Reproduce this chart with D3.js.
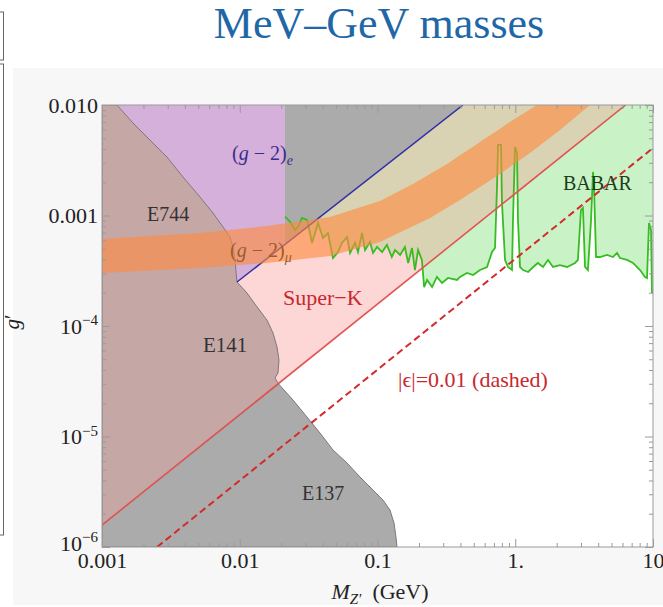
<!DOCTYPE html>
<html>
<head>
<meta charset="utf-8">
<title>MeV–GeV masses</title>
<script src="https://d3js.org/d3.v7.min.js"></script>
<style>
  body { margin: 0; background: #ffffff; }
  text { font-family: "Liberation Serif", "Times New Roman", serif; }
</style>
</head>
<body>
<script>
// all values, points are [M_Z' in GeV, g']
var xTicks = [0.001, 0.01, 0.1, 1, 10];
var xTickLabels = ["0.001", "0.01", "0.1", "1.", "10"];
var yTicks = [1e-6, 1e-5, 1e-4, 1e-3, 1e-2];
var yTickLabels = [["10", "\u22126"], ["10", "\u22125"], ["10", "\u22124"], ["0.001", ""], ["0.010", ""]];

// E744 edge, top of frame down to where the (g-2)e line starts
var e744Edge = [[1.285e-3, 1e-2], [1.679e-3, 6.87e-3], [2.231e-3, 4.82e-3], [2.964e-3, 3.38e-3],
    [3.873e-3, 2.23e-3], [5.145e-3, 1.47e-3], [6.394e-3, 1.053e-3], [7.557e-3, 7.87e-4],
    [8.50e-3, 6.39e-4], [8.934e-3, 5.19e-4], [9.237e-3, 3.96e-4], [9.393e-3, 3.08e-4], [9.55e-3, 2.50e-4]];
// E141 edge, down to the Super-K line
var e141Edge = [[1.129e-2, 1.99e-4], [1.334e-2, 1.49e-4], [1.577e-2, 1.13e-4], [1.743e-2, 8.64e-5],
    [1.864e-2, 6.46e-5], [1.927e-2, 4.92e-5], [1.895e-2, 3.76e-5], [1.803e-2, 3.38e-5], [1.914e-2, 2.99e-5]];
// E137 edge, from the Super-K line to the bottom of the frame
var e137Edge = [[2.435e-2, 2.14e-5], [3.077e-2, 1.50e-5], [3.824e-2, 1.076e-5], [4.753e-2, 7.55e-6],
    [6.006e-2, 5.76e-6], [7.464e-2, 4.30e-6], [9.276e-2, 3.28e-6], [0.1096, 2.66e-6], [0.1232, 2.16e-6],
    [0.1318, 1.65e-6], [0.1362, 1.23e-6], [0.1385, 1e-6]];

var superKLine = [[0.001, 1.58e-6], [6.33, 0.01]];
var epsLine = [[0.00251, 1e-6], [10, 4.08e-3]];
var g2eLine = [[9.55e-3, 2.50e-4], [0.4175, 1e-2]];
var grayStrip = [[0.0213, 1e-2], [0.4175, 1e-2], [0.0213, 5.47e-4]];

// (g-2)mu band edges
var g2muUpper = [[0.001, 6.13e-4], [5.145e-3, 6.94e-4], [1.577e-2, 8.04e-4], [4.52e-2, 9.69e-4],
    [0.1042, 1.353e-3], [0.181, 1.93e-3], [0.3195, 2.92e-3], [0.555, 4.63e-3], [0.963, 7.32e-3], [1.439, 1e-2]];
var g2muLower = [[0.001, 3.02e-4], [5.145e-3, 3.35e-4], [1.577e-2, 3.72e-4], [4.52e-2, 4.30e-4],
    [0.1042, 5.76e-4], [0.2405, 9.49e-4], [0.397, 1.381e-3], [0.737, 2.28e-3], [1.28, 3.68e-3],
    [2.113, 5.94e-3], [3.488, 1e-2]];

// BABAR limit
var babar = [[0.0213, 9.75e-4], [0.0232, 8.79e-4], [0.0252, 7.39e-4], [0.0265, 7.87e-4], [0.0283, 9.49e-4],
    [0.0308, 9.10e-4], [0.0335, 5.64e-4], [0.0352, 6.94e-4], [0.0370, 8.55e-4], [0.0402, 6.26e-4],
    [0.0437, 6.94e-4], [0.0475, 4.12e-4], [0.0517, 4.67e-4], [0.0552, 5.64e-4], [0.0601, 6.39e-4],
    [0.0632, 4.58e-4], [0.0687, 5.64e-4], [0.0722, 4.67e-4], [0.0772, 6.94e-4], [0.0812, 4.87e-4],
    [0.0882, 5.76e-4], [0.0928, 4.58e-4], [0.0992, 5.19e-4], [0.108, 4.67e-4], [0.117, 5.41e-4],
    [0.127, 4.21e-4], [0.134, 4.87e-4], [0.146, 4.39e-4], [0.158, 5.19e-4], [0.167, 3.72e-4],
    [0.178, 5.08e-4], [0.187, 3.21e-4], [0.197, 4.87e-4], [0.210, 3.96e-4], [0.218, 2.25e-4],
    [0.229, 2.61e-4], [0.249, 2.25e-4], [0.270, 2.78e-4], [0.294, 2.45e-4], [0.325, 2.72e-4],
    [0.378, 2.61e-4], [0.397, 2.78e-4], [0.446, 3.02e-4], [0.494, 2.89e-4], [0.555, 3.21e-4],
    [0.624, 3.42e-4], [0.678, 4.67e-4], [0.713, 5.08e-4], [0.737, 1.81e-3], [0.750, 4.35e-3],
    [0.788, 4.35e-3], [0.801, 1.30e-3], [0.843, 3.96e-4], [0.886, 3.42e-4], [0.947, 3.21e-4],
    [0.963, 9.10e-4], [0.996, 4.17e-3], [1.030, 3.68e-3], [1.047, 9.10e-4], [1.083, 3.42e-4],
    [1.14, 3.21e-4], [1.24, 3.08e-4], [1.35, 3.42e-4], [1.46, 3.72e-4], [1.59, 3.42e-4],
    [1.73, 3.96e-4], [1.88, 3.42e-4], [2.11, 3.56e-4], [2.38, 3.42e-4], [2.72, 3.72e-4],
    [2.85, 3.96e-4], [3.00, 1.12e-3], [3.10, 1.17e-3], [3.21, 3.42e-4], [3.37, 3.21e-4],
    [3.55, 9.10e-4], [3.67, 2.48e-3], [3.73, 1.81e-3], [3.86, 4.21e-4], [4.12, 4.21e-4],
    [4.64, 4.39e-4], [5.12, 4.21e-4], [5.48, 4.58e-4], [5.76, 4.12e-4], [6.48, 3.96e-4],
    [7.16, 3.72e-4], [8.05, 3.21e-4], [8.75, 2.78e-4], [9.05, 2.72e-4], [9.35, 8.55e-4],
    [9.67, 7.39e-4], [9.83, 1.99e-4], [10, 2.12e-4]];

window.onload = function(){

    var w = 663, h = 607;
    var left = 102, right = 653, top = 105, bottom = 547;

    var svg = d3.select("body")
        .append("svg")
        .attr("width", w)
        .attr("height", h);

    // slide panel behind the plot
    svg.append("rect")
        .attr("x", 13).attr("y", 68)
        .attr("width", w - 13).attr("height", 537)
        .style("fill", "#f7f7f7");

    // cut-off boxes on the left side of the slide
    svg.append("rect")
        .attr("x", -20).attr("y", 12).attr("width", 23.5).attr("height", 48)
        .style("fill", "none").style("stroke", "#666").style("stroke-width", 1);
    svg.append("rect")
        .attr("x", -20).attr("y", 64).attr("width", 23.5).attr("height", 471)
        .style("fill", "none").style("stroke", "#666").style("stroke-width", 1);

    // title
    svg.append("text")
        .attr("x", 379).attr("y", 38)
        .attr("text-anchor", "middle")
        .style("font-size", "44px")
        .style("fill", "#1f67a6")
        .text("MeV\u2013GeV masses");

    var x = d3.scaleLog().domain([0.001, 10]).range([left, right]);
    var y = d3.scaleLog().domain([1e-6, 1e-2]).range([bottom, top]);

    var line = d3.line()
        .x(function(d){ return x(d[0]); })
        .y(function(d){ return y(d[1]); });

    var defs = svg.append("defs");
    defs.append("clipPath").attr("id", "plotClip")
        .append("rect")
        .attr("x", left).attr("y", top)
        .attr("width", right - left).attr("height", bottom - top);

    // region above the Super-K line
    var superKRegion = [[0.001, 1e-2]].concat(superKLine);
    defs.append("clipPath").attr("id", "superKClip")
        .append("path")
        .attr("d", line(superKRegion) + "Z");

    var plot = svg.append("g").attr("clip-path", "url(#plotClip)");

    plot.append("rect")
        .attr("x", left).attr("y", top)
        .attr("width", right - left).attr("height", bottom - top)
        .style("fill", "#ffffff");

    // Super-K
    plot.append("path")
        .attr("d", line(superKRegion) + "Z")
        .style("fill", "#fdd6d6");

    // BABAR, tan where it overlaps Super-K
    var babarRegion = babar.concat([[10, 1e-2], [0.0213, 1e-2]]);
    plot.append("path")
        .attr("d", line(babarRegion) + "Z")
        .style("fill", "#c9f3c6");
    plot.append("path")
        .attr("d", line(babarRegion) + "Z")
        .attr("clip-path", "url(#superKClip)")
        .style("fill", "#d9d2b3");

    // (g-2)e excluded: purple and the grey strip
    var purpleRegion = e744Edge.concat([[0.0213, 5.47e-4], [0.0213, 1e-2]]);
    plot.append("path")
        .attr("d", line(purpleRegion) + "Z")
        .style("fill", "#d4b0da");
    plot.append("path")
        .attr("d", line(grayStrip) + "Z")
        .style("fill", "#ababab");

    // E137
    var e137Region = [[0.001, 1.58e-6], [1.914e-2, 2.99e-5]].concat(e137Edge, [[0.001, 1e-6]]);
    plot.append("path")
        .attr("d", line(e137Region) + "Z")
        .style("fill", "#ababab")
        .style("stroke", "#7a7a7a")
        .style("stroke-width", 1);

    // E744 + E141
    var beamRegion = [[0.001, 1e-2]].concat(e744Edge, e141Edge, [[0.001, 1.58e-6]]);
    plot.append("path")
        .attr("d", line(beamRegion) + "Z")
        .style("fill", "#c5a7a6")
        .style("stroke", "#7a7a7a")
        .style("stroke-width", 1);

    // lines
    plot.append("path")
        .attr("d", line(babar))
        .style("fill", "none")
        .style("stroke", "#36bd22")
        .style("stroke-width", 1.8);

    plot.append("path")
        .attr("d", line(g2eLine))
        .style("fill", "none")
        .style("stroke", "#2e2ea6")
        .style("stroke-width", 1.5);

    plot.append("path")
        .attr("d", line(superKLine))
        .style("fill", "none")
        .style("stroke", "#e05555")
        .style("stroke-width", 1.6);

    plot.append("path")
        .attr("d", line(epsLine))
        .style("fill", "none")
        .style("stroke", "#d42a2a")
        .style("stroke-width", 2)
        .style("stroke-dasharray", "7,4");

    // (g-2)mu band, see-through on top
    var bandRegion = g2muUpper.concat(g2muLower.slice().reverse());
    plot.append("path")
        .attr("d", d3.line()
            .x(function(d){ return x(d[0]); })
            .y(function(d){ return y(d[1]); })
            .curve(d3.curveLinearClosed)(bandRegion))
        .style("fill", "#ff8a40")
        .style("fill-opacity", 0.62);

    // region labels
    var labelFont = "20px";
    function label(px, py, size, color, txt){
        return svg.append("text")
            .attr("x", px).attr("y", py)
            .style("font-size", size)
            .style("fill", color)
            .text(txt);
    }
    label(147, 221, labelFont, "#333", "E744");
    label(203, 352, "21px", "#333", "E141");
    label(302, 500, labelFont, "#333", "E137");
    label(283, 305, "22px", "#c8282e", "Super\u2212K");
    label(398, 387, "22px", "#c8282e", "|\u03f5|=0.01 (dashed)");
    label(563, 190, labelFont, "#1d3d1d", "BABAR");

    var g2e = svg.append("text")
        .attr("x", 232).attr("y", 160)
        .style("font-size", "20px")
        .style("fill", "#3b2b8f");
    g2e.append("tspan").text("(");
    g2e.append("tspan").style("font-style", "italic").text("g");
    g2e.append("tspan").text(" \u2212 2)");
    g2e.append("tspan").attr("dy", 5).style("font-size", "14px").style("font-style", "italic").text("e");

    var g2mu = svg.append("text")
        .attr("x", 230).attr("y", 257)
        .style("font-size", "20px")
        .style("fill", "#9a5e2a");
    g2mu.append("tspan").text("(");
    g2mu.append("tspan").style("font-style", "italic").text("g");
    g2mu.append("tspan").text(" \u2212 2)");
    g2mu.append("tspan").attr("dy", 5).style("font-size", "14px").style("font-style", "italic").text("\u03bc");

    // frame and ticks
    var xMinor = x.ticks().filter(function(d){ return xTicks.indexOf(d) < 0; });
    var yMinor = y.ticks().filter(function(d){ return yTicks.indexOf(d) < 0; });

    var axisColor = "#9a9a9a";

    var xAxis = d3.axisBottom(x)
        .tickValues(xTicks)
        .tickSizeInner(-8).tickSizeOuter(0)
        .tickPadding(5)
        .tickFormat(function(d, i){ return xTickLabels[i]; });
    var xAxisG = svg.append("g")
        .attr("transform", "translate(0," + bottom + ")")
        .call(xAxis);
    svg.append("g")
        .attr("transform", "translate(0," + bottom + ")")
        .call(d3.axisBottom(x).tickValues(xMinor).tickSizeInner(-4).tickSizeOuter(0).tickFormat(""));
    svg.append("g")
        .attr("transform", "translate(0," + top + ")")
        .call(d3.axisTop(x).tickValues(xTicks).tickSizeInner(-8).tickSizeOuter(0).tickFormat(""));
    svg.append("g")
        .attr("transform", "translate(0," + top + ")")
        .call(d3.axisTop(x).tickValues(xMinor).tickSizeInner(-4).tickSizeOuter(0).tickFormat(""));

    var yAxis = d3.axisLeft(y)
        .tickValues(yTicks)
        .tickSizeInner(-8).tickSizeOuter(0)
        .tickPadding(4)
        .tickFormat("");
    var yAxisG = svg.append("g")
        .attr("transform", "translate(" + left + ",0)")
        .call(yAxis);
    svg.append("g")
        .attr("transform", "translate(" + left + ",0)")
        .call(d3.axisLeft(y).tickValues(yMinor).tickSizeInner(-4).tickSizeOuter(0).tickFormat(""));
    svg.append("g")
        .attr("transform", "translate(" + right + ",0)")
        .call(d3.axisRight(y).tickValues(yTicks).tickSizeInner(-8).tickSizeOuter(0).tickFormat(""));
    svg.append("g")
        .attr("transform", "translate(" + right + ",0)")
        .call(d3.axisRight(y).tickValues(yMinor).tickSizeInner(-4).tickSizeOuter(0).tickFormat(""));

    // y labels with superscripts
    yAxisG.selectAll(".tick text").each(function(d, i){
        var t = d3.select(this);
        t.text(yTickLabels[i][0]);
        if (i === 0) t.attr("y", -4); // lowest one sits just above the x labels
        if (yTickLabels[i][1]) {
            t.append("tspan")
                .attr("dy", "-0.55em")
                .style("font-size", "15px")
                .text(yTickLabels[i][1]);
        }
    });

    svg.selectAll(".domain").remove();
    svg.selectAll(".tick line").style("stroke", axisColor);
    svg.selectAll(".tick text")
        .style("font-family", "'Liberation Serif', serif")
        .style("font-size", "22px")
        .style("fill", "#222");

    svg.append("rect")
        .attr("x", left).attr("y", top)
        .attr("width", right - left).attr("height", bottom - top)
        .style("fill", "none")
        .style("stroke", axisColor)
        .style("stroke-width", 1);

    // axis titles
    var xTitle = svg.append("text")
        .attr("x", 380).attr("y", 599)
        .attr("text-anchor", "middle")
        .style("font-size", "22px")
        .style("fill", "#222");
    xTitle.append("tspan").style("font-style", "italic").text("M");
    xTitle.append("tspan").attr("dy", 5).style("font-size", "15px").style("font-style", "italic").text("Z\u2032");
    xTitle.append("tspan").attr("dy", -5).text("\u2002(GeV)");

    var yTitle = svg.append("text")
        .attr("transform", "translate(19,322) rotate(-90)")
        .attr("text-anchor", "middle")
        .style("font-size", "21px")
        .style("fill", "#222");
    yTitle.append("tspan").style("font-style", "italic").text("g");
    yTitle.append("tspan").text("\u2032");
};
</script>
</body>
</html>
